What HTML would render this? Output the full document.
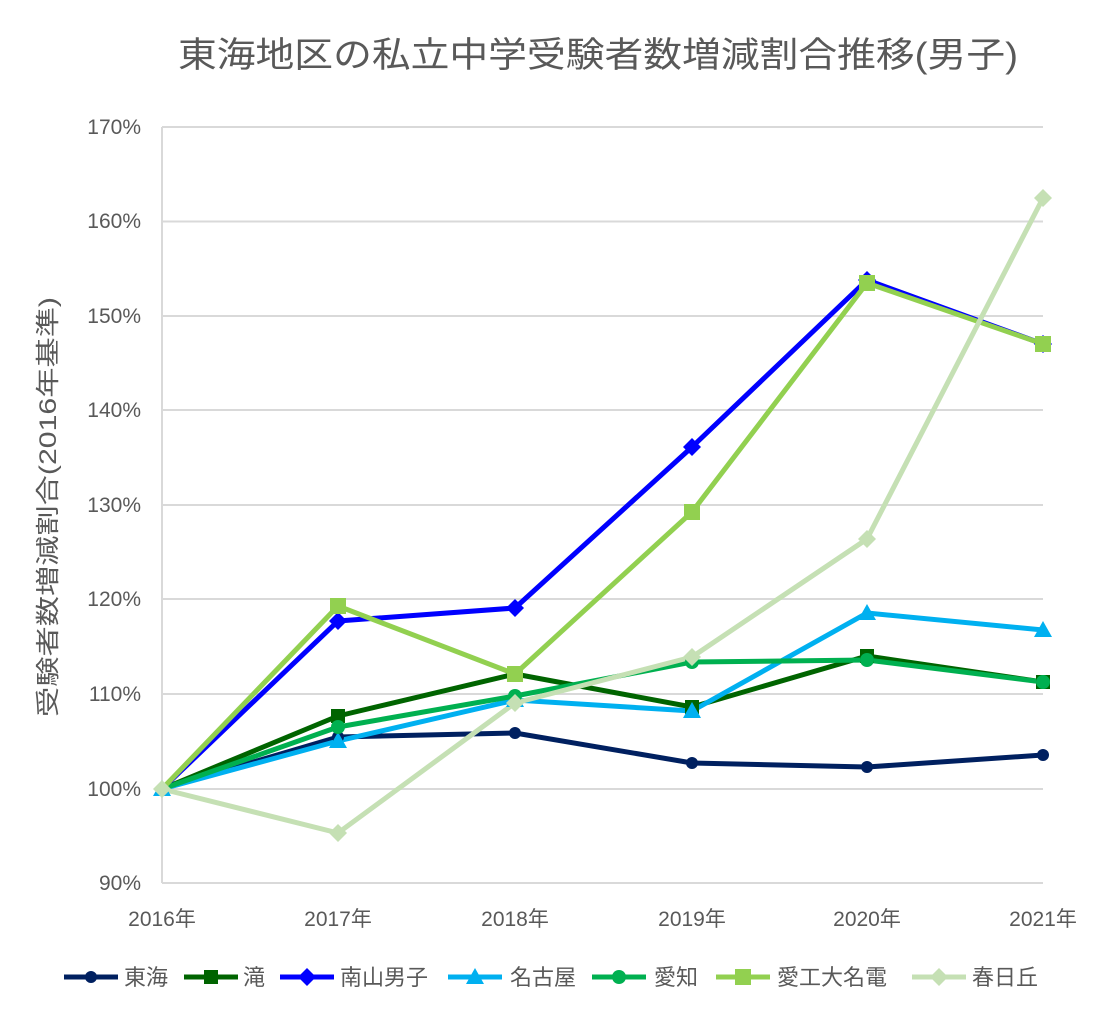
<!DOCTYPE html>
<html><head><meta charset="utf-8"><style>
html,body{margin:0;padding:0;background:#fff}
svg text{font-family:"Liberation Sans","Noto Sans CJK JP",sans-serif;fill:#595959}
</style></head><body>
<svg width="1101" height="1018" viewBox="0 0 1101 1018" xmlns="http://www.w3.org/2000/svg">
<text x="178" y="67" font-size="35" textLength="840" lengthAdjust="spacingAndGlyphs">東海地区の私立中学受験者数増減割合推移(男子)</text>
<g stroke="#d9d9d9" stroke-width="2">
<line x1="162" x2="1043" y1="127" y2="127"/><line x1="162" x2="1043" y1="221.5" y2="221.5"/>
<line x1="162" x2="1043" y1="316" y2="316"/><line x1="162" x2="1043" y1="410" y2="410"/>
<line x1="162" x2="1043" y1="505" y2="505"/><line x1="162" x2="1043" y1="599" y2="599"/>
<line x1="162" x2="1043" y1="694" y2="694"/><line x1="162" x2="1043" y1="789" y2="789"/>
<line x1="162" x2="1043" y1="883" y2="883"/>
<line x1="162" x2="162" y1="127" y2="883"/>
</g>
<g font-size="21" text-anchor="end">
<text x="141" y="134">170%</text><text x="141" y="228">160%</text><text x="141" y="323">150%</text>
<text x="141" y="417">140%</text><text x="141" y="512">130%</text><text x="141" y="606">120%</text>
<text x="141" y="701">110%</text><text x="141" y="796">100%</text><text x="141" y="890">90%</text>
</g>
<g font-size="21" text-anchor="middle">
<text x="162" y="926">2016年</text><text x="338" y="926">2017年</text><text x="515" y="926">2018年</text>
<text x="692" y="926">2019年</text><text x="867" y="926">2020年</text><text x="1043" y="926">2021年</text>
</g>
<text transform="translate(56,507) rotate(-90)" font-size="24" text-anchor="middle" textLength="420" lengthAdjust="spacingAndGlyphs">受験者数増減割合(2016年基準)</text>
<g fill="none" stroke-width="5" stroke-linejoin="round">
<polyline stroke="#002060" points="162,789 338,737 515,733 692,763 867,767 1043,755"/>
<polyline stroke="#006400" points="162,789 338,716 515,674 692,707 867,656 1043,682"/>
<polyline stroke="#0000ff" points="162,789 338,621 515,608 692,447 867,280 1043,344"/>
<polyline stroke="#00b0f0" points="162,789 338,741 515,700 692,711 867,613 1043,630"/>
<polyline stroke="#00b050" points="162,789 338,727 515,696 692,662 867,660 1043,682"/>
<polyline stroke="#92d050" points="162,789 338,606 515,674 692,512 867,283 1043,344"/>
<polyline stroke="#c5e0b4" points="162,789 338,833 515,703 692,657 867,539 1043,198"/>
</g>
<g fill="#002060"><circle cx="338" cy="737" r="6"/><circle cx="515" cy="733" r="6"/><circle cx="692" cy="763" r="6"/><circle cx="867" cy="767" r="6"/><circle cx="1043" cy="755" r="6"/></g>
<g fill="#006400"><rect x="331" y="709" width="14" height="14"/><rect x="508" y="667" width="14" height="14"/><rect x="685" y="700" width="14" height="14"/><rect x="860" y="649" width="14" height="14"/><rect x="1036" y="675" width="14" height="14"/></g>
<g fill="#0000ff"><path d="M338 612l9 9-9 9-9-9z"/><path d="M515 599l9 9-9 9-9-9z"/><path d="M692 438l9 9-9 9-9-9z"/><path d="M867 271l9 9-9 9-9-9z"/><path d="M1043 335l9 9-9 9-9-9z"/></g>
<g fill="#00b0f0"><path d="M162 780l9 16h-18z"/><path d="M338 732l9 16h-18z"/><path d="M515 691l9 16h-18z"/><path d="M692 702l9 16h-18z"/><path d="M867 604l9 16h-18z"/><path d="M1043 621l9 16h-18z"/></g>
<g fill="#00b050"><circle cx="338" cy="727" r="7"/><circle cx="515" cy="696" r="7"/><circle cx="692" cy="662" r="7"/><circle cx="867" cy="660" r="7"/><circle cx="1043" cy="682" r="7"/></g>
<g fill="#92d050"><rect x="330" y="598" width="16" height="16"/><rect x="507" y="666" width="16" height="16"/><rect x="684" y="504" width="16" height="16"/><rect x="859" y="275" width="16" height="16"/><rect x="1035" y="336" width="16" height="16"/></g>
<g fill="#c5e0b4"><path d="M162 780l9 9-9 9-9-9z"/><path d="M338 824l9 9-9 9-9-9z"/><path d="M515 694l9 9-9 9-9-9z"/><path d="M692 648l9 9-9 9-9-9z"/><path d="M867 530l9 9-9 9-9-9z"/><path d="M1043 189l9 9-9 9-9-9z"/></g>
<g font-size="22" stroke-width="5">
<line x1="64" x2="118" y1="977" y2="977" stroke="#002060"/><circle cx="91" cy="977" r="6" fill="#002060"/><text x="124" y="985">東海</text>
<line x1="184" x2="238" y1="977" y2="977" stroke="#006400"/><rect x="204" y="970" width="14" height="14" fill="#006400"/><text x="243" y="985">滝</text>
<line x1="280" x2="334" y1="977" y2="977" stroke="#0000ff"/><path d="M307 968l9 9-9 9-9-9z" fill="#0000ff"/><text x="340" y="985">南山男子</text>
<line x1="448" x2="502" y1="977" y2="977" stroke="#00b0f0"/><path d="M475 968l9 16h-18z" fill="#00b0f0"/><text x="510" y="985">名古屋</text>
<line x1="592" x2="646" y1="977" y2="977" stroke="#00b050"/><circle cx="619" cy="977" r="7" fill="#00b050"/><text x="654" y="985">愛知</text>
<line x1="716" x2="770" y1="977" y2="977" stroke="#92d050"/><rect x="735" y="969" width="16" height="16" fill="#92d050"/><text x="777" y="985">愛工大名電</text>
<line x1="912" x2="966" y1="977" y2="977" stroke="#c5e0b4"/><path d="M939 968l9 9-9 9-9-9z" fill="#c5e0b4"/><text x="972" y="985">春日丘</text>
</g>
</svg>
</body></html>
